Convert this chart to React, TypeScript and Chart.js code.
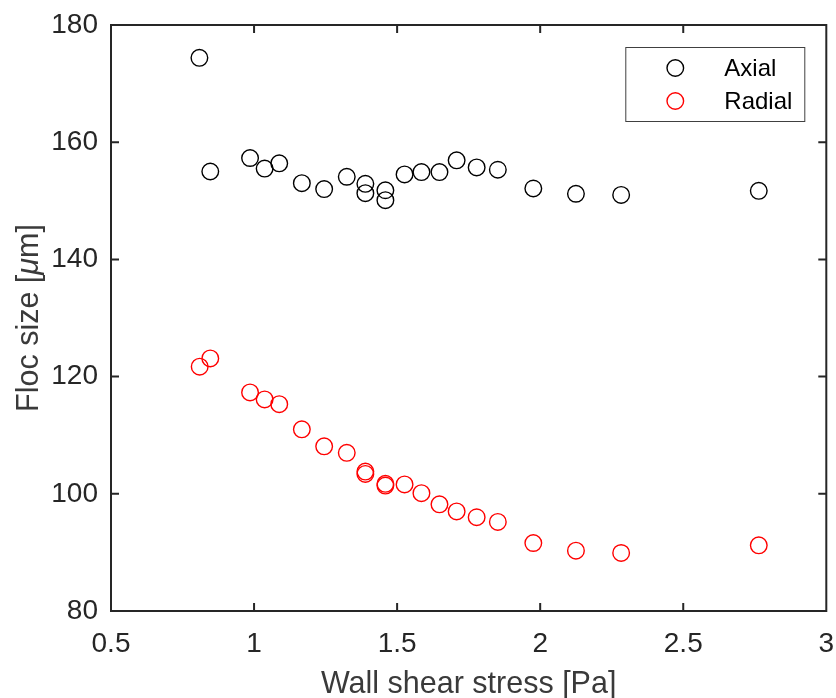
import React, { useEffect, useRef } from "react";
import { Chart, registerables } from "chart.js";

Chart.register(...registerables);

const axialX = [0.809, 0.847, 0.986, 1.037, 1.088, 1.167, 1.245, 1.324, 1.389, 1.389, 1.459, 1.459, 1.526, 1.585, 1.648, 1.708, 1.778, 1.852, 1.976, 2.125, 2.283, 2.764];
const axialY = [174.4, 155.0, 157.3, 155.5, 156.4, 153.0, 152.0, 154.1, 152.9, 151.3, 151.8, 150.1, 154.5, 154.9, 154.9, 156.9, 155.7, 155.3, 152.1, 151.2, 151.0, 151.7];
const radialX = [0.810, 0.847, 0.986, 1.037, 1.088, 1.167, 1.245, 1.324, 1.389, 1.389, 1.459, 1.459, 1.526, 1.585, 1.648, 1.708, 1.778, 1.852, 1.976, 2.125, 2.283, 2.764];
const radialY = [121.7, 123.1, 117.3, 116.1, 115.3, 111.0, 108.1, 107.0, 103.8, 103.4, 101.7, 101.4, 101.6, 100.1, 98.2, 97.0, 96.0, 95.2, 91.6, 90.3, 89.9, 91.2];

const seriesLabels = ["Axial", "Radial"];
const seriesColors = ["#000000", "#ff0000"];
const xTitle = "Wall shear stress [Pa]";
const yTitleParts = [
  { text: "Floc size [", italic: false },
  { text: "μ", italic: true },
  { text: "m]", italic: false },
];

const FONT = "'Liberation Sans', Arial, Helvetica, sans-serif";
const AXIS_COLOR = "#262626";
const TITLE_SIZE = 30.5;

const boxPlugin = {
  id: "matlabBox",
  afterDraw(chart: any) {
    const { ctx, chartArea } = chart;
    const { left, right, top, bottom } = chartArea;
    const xs = chart.scales.x;
    const ys = chart.scales.y;
    ctx.save();
    ctx.strokeStyle = AXIS_COLOR;
    ctx.lineWidth = 2;
    ctx.strokeRect(left, top, right - left, bottom - top);
    const tl = 8;
    ctx.beginPath();
    xs.ticks.forEach((t: any) => {
      const px = xs.getPixelForValue(t.value);
      if (Math.abs(px - left) < 1 || Math.abs(px - right) < 1) return;
      ctx.moveTo(px, bottom);
      ctx.lineTo(px, bottom - tl);
      ctx.moveTo(px, top);
      ctx.lineTo(px, top + tl);
    });
    ys.ticks.forEach((t: any) => {
      const py = ys.getPixelForValue(t.value);
      if (Math.abs(py - top) < 1 || Math.abs(py - bottom) < 1) return;
      ctx.moveTo(left, py);
      ctx.lineTo(left + tl, py);
      ctx.moveTo(right, py);
      ctx.lineTo(right - tl, py);
    });
    ctx.stroke();

    // axis titles
    ctx.fillStyle = "#3a3a3a";
    ctx.font = `${TITLE_SIZE}px ${FONT}`;
    ctx.textAlign = "center";
    ctx.textBaseline = "alphabetic";
    ctx.fillText(xTitle, (left + right) / 2, 693);

    ctx.save();
    ctx.translate(37.5, (top + bottom) / 2);
    ctx.rotate(-Math.PI / 2);
    ctx.textAlign = "left";
    const widths = yTitleParts.map((p) => {
      ctx.font = `${p.italic ? "italic " : ""}${TITLE_SIZE}px ${FONT}`;
      return ctx.measureText(p.text).width;
    });
    const total = widths.reduce((a, b) => a + b, 0);
    let xpos = -total / 2;
    yTitleParts.forEach((p, i) => {
      ctx.font = `${p.italic ? "italic " : ""}${TITLE_SIZE}px ${FONT}`;
      ctx.fillText(p.text, xpos, 0);
      xpos += widths[i];
    });
    ctx.restore();

    // legend
    const lw = 179;
    const lh = 74;
    const lx = right - 22 - lw;
    const ly = top + 22;
    ctx.fillStyle = "#ffffff";
    ctx.fillRect(lx, ly, lw, lh);
    ctx.strokeStyle = "#404040";
    ctx.lineWidth = 1;
    ctx.strokeRect(lx + 0.5, ly + 0.5, lw, lh);
    ctx.font = `24px ${FONT}`;
    ctx.textAlign = "left";
    ctx.textBaseline = "middle";
    chart.data.datasets.forEach((ds: any, i: number) => {
      const cy = ly + 21 + i * 33;
      ctx.beginPath();
      ctx.strokeStyle = ds.borderColor;
      ctx.lineWidth = 1.4;
      ctx.arc(lx + 50, cy, 8.3, 0, Math.PI * 2);
      ctx.stroke();
      ctx.fillStyle = "#000000";
      ctx.fillText(ds.label, lx + 99, cy + 1);
    });
    ctx.restore();
  },
};

export default function App() {
  const ref = useRef<HTMLCanvasElement>(null);
  useEffect(() => {
    if (!ref.current) return;
    const mk = (xs: number[], ys: number[]) => xs.map((x, i) => ({ x, y: ys[i] }));
    const chart = new Chart(ref.current, {
      type: "scatter",
      data: {
        datasets: [
          {
            label: seriesLabels[0],
            data: mk(axialX, axialY),
            borderColor: seriesColors[0],
            backgroundColor: "rgba(0,0,0,0)",
            pointRadius: 8.3,
            pointBorderWidth: 1.4,
            pointStyle: "circle",
          },
          {
            label: seriesLabels[1],
            data: mk(radialX, radialY),
            borderColor: seriesColors[1],
            backgroundColor: "rgba(0,0,0,0)",
            pointRadius: 8.3,
            pointBorderWidth: 1.4,
            pointStyle: "circle",
          },
        ],
      },
      options: {
        responsive: false,
        animation: false,
        layout: { padding: { left: 0, top: 25, right: 6, bottom: 0 } },
        plugins: { legend: { display: false }, tooltip: { enabled: false } },
        scales: {
          x: {
            type: "linear",
            min: 0.5,
            max: 3,
            grid: { display: false, drawTicks: false },
            border: { display: false },
            ticks: {
              stepSize: 0.5,
              padding: 16,
              color: AXIS_COLOR,
              font: { family: FONT, size: 28 },
              maxRotation: 0,
              callback: (v: any) => String(v),
            },
            afterFit: (s: any) => {
              s.height = 87;
              s.paddingLeft = 0;
              s.paddingRight = 0;
            },
          },
          y: {
            type: "linear",
            min: 80,
            max: 180,
            grid: { display: false, drawTicks: false },
            border: { display: false },
            ticks: {
              stepSize: 20,
              padding: 13,
              color: AXIS_COLOR,
              font: { family: FONT, size: 28 },
              callback: (v: any) => String(v),
            },
            afterFit: (s: any) => {
              s.width = 111;
              s.paddingTop = 0;
              s.paddingBottom = 0;
            },
          },
        },
      },
      plugins: [boxPlugin],
    });
    return () => chart.destroy();
  }, []);
  return (
    <div style={{ position: "fixed", left: 0, top: 0, width: 836, height: 698, background: "#fff" }}>
      <canvas ref={ref} width={836} height={698} style={{ display: "block" }} />
    </div>
  );
}
